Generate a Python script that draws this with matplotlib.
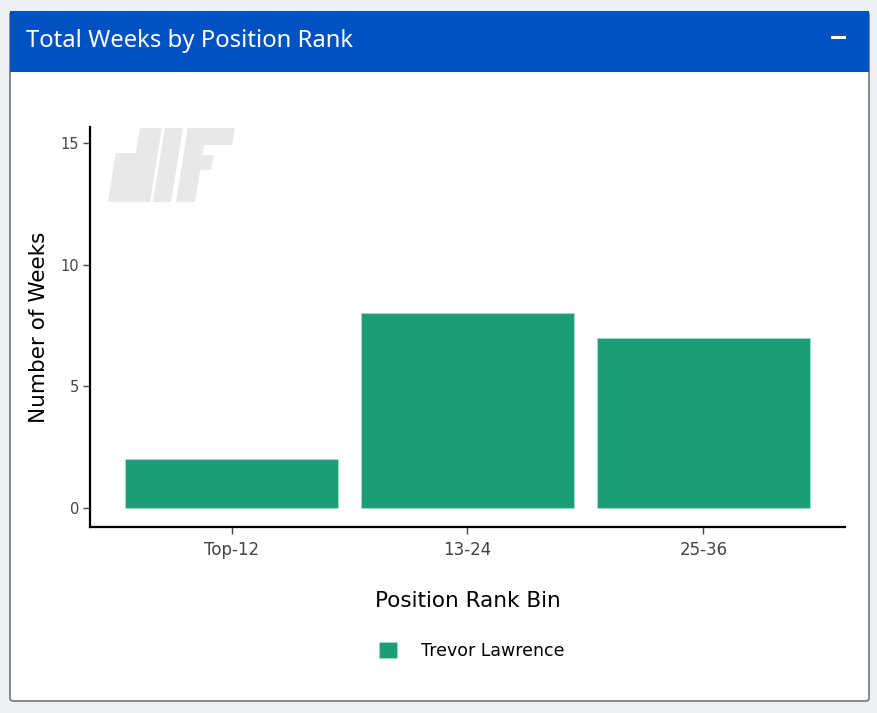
import matplotlib
matplotlib.use("Agg")
import matplotlib.pyplot as plt
from matplotlib.patches import FancyBboxPatch, Rectangle, Polygon

# data
bins = ["Top-12", "13-24", "25-36"]
weeks = [2, 8, 7]
player = "Trevor Lawrence"
y_ticks = [0, 5, 10, 15]

W, H = 877, 713
fig = plt.figure(figsize=(W / 100, H / 100), dpi=100)
fig.patch.set_facecolor("#eceff3")

def fx(px):
    return px / W

def fy(py):
    return 1 - py / H

# card
card = FancyBboxPatch((fx(10), fy(701)), fx(859), (700 - 11) / H,
                      boxstyle="round,pad=0,rounding_size=0.004",
                      transform=fig.transFigure, facecolor="white",
                      edgecolor="#777777", linewidth=1.2, zorder=-3)
fig.patches.append(card)
header = Rectangle((fx(10), fy(72)), fx(859), 61 / H, transform=fig.transFigure,
                   facecolor="#0052c2", edgecolor="none", zorder=-2)
fig.patches.append(header)
fig.text(fx(26), fy(41), "Total Weeks by Position Rank", color="white",
         fontsize=17.2, family="Noto Sans", va="center", ha="left")
fig.patches.append(Rectangle((fx(831), fy(39)), fx(15), 3 / H,
                             transform=fig.transFigure, facecolor="white",
                             edgecolor="none", zorder=-1))

# watermark logo (slanted blocks), pixel coords at bottom line y=202
def slab(xl, xr, ytop, ybot, s=0.16):
    pts = [(xl + (202 - ybot) * s, ybot), (xr + (202 - ybot) * s, ybot),
           (xr + (202 - ytop) * s, ytop), (xl + (202 - ytop) * s, ytop)]
    return Polygon([(fx(a), fy(b)) for a, b in pts], closed=True,
                   transform=fig.transFigure, facecolor="#e8e8e8",
                   edgecolor="none", zorder=-1)

for args in [(128, 150, 128, 202), (108, 132, 153, 202), (153, 171, 128, 202),
             (176, 195, 128, 202), (176, 223, 128, 145), (180, 206, 155, 170)]:
    fig.patches.append(slab(*args))

ax = fig.add_axes([fx(90), fy(527), fx(845 - 90), (527 - 127) / H])
ax.set_facecolor("none")
x = range(len(bins))
ax.bar(x, weeks, width=0.9, color="#1b9e77", edgecolor="#a8dccb", linewidth=0.6,
       label=player, zorder=2)
ax.set_xlim(-0.6, 2.6)
ax.set_ylim(-0.78, 15.66)
ax.set_xticks(list(x))
ax.set_xticklabels(bins)
ax.set_yticks(y_ticks)
ax.tick_params(axis="both", colors="#444444", length=5, width=1)
ax.tick_params(axis="y", pad=3, labelsize=10.5)
ax.tick_params(axis="x", pad=5, labelsize=12)
for s in ["top", "right"]:
    ax.spines[s].set_visible(False)
for s in ["left", "bottom"]:
    ax.spines[s].set_linewidth(1.6)
    ax.spines[s].set_color("black")
ax.set_xlabel("Position Rank Bin", fontsize=15.5, labelpad=23, color="black")
ax.set_ylabel("Number of Weeks", fontsize=15.5, labelpad=8, color="black")

leg = fig.legend(loc="center", bbox_to_anchor=(fx(472), fy(651)), frameon=False,
                 fontsize=12.5, handlelength=1.0, handleheight=1.0,
                 handletextpad=1.4)

fig.savefig("out.png", dpi=100, facecolor=fig.get_facecolor())
